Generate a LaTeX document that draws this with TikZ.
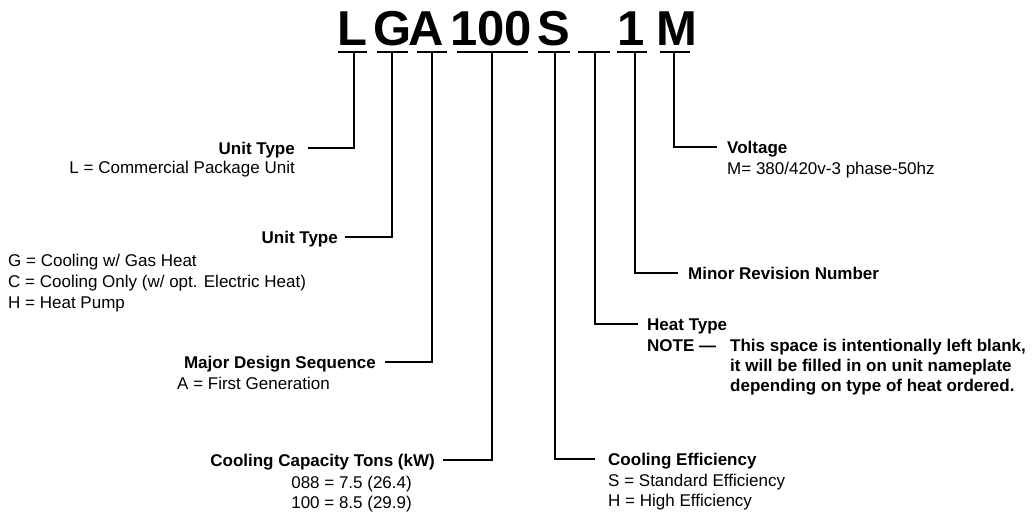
\documentclass[tikz,border=0pt]{standalone}
\usepackage{fontspec}
\setmainfont{Liberation Sans}
\begin{document}
\begin{tikzpicture}[x=1pt,y=-1pt,
  conn/.style={line width=1.8pt, line join=miter},
  bar/.style={fill=black, inner sep=0pt, minimum height=2.2pt},
  big/.style={font=\fontsize{49}{49}\selectfont\bfseries, inner sep=0pt, anchor=base},
  ttl/.style={font=\fontsize{17}{20}\selectfont\bfseries, inner sep=0pt, text height=12.2pt, text depth=0pt},
  dsc/.style={font=\fontsize{17}{20}\selectfont, inner sep=0pt},
  nt/.style={font=\fontsize{17}{20}\selectfont\bfseries, inner sep=0pt}]
\useasboundingbox (0,0) rectangle (1032,512);

% big code letters
\node[big] (cL) at (352,45) {L};
\node[big] (cG) at (393,45) {G};
\node[big] (cA) at (426,45) {A};
\node[big] (c100) at (491,45) {100};
\node[big] (cS) at (554,45) {S};
\node[big] (c1) at (631,45) {1};
\node[big] (cM) at (677,45) {M};

% underline bars
\node[bar, minimum width=29pt] (barL) at (352.5,52) {};
\node[bar, minimum width=31pt] (barG) at (392.5,52) {};
\node[bar, minimum width=30pt] (barA) at (432,52) {};
\node[bar, minimum width=71pt] (bar100) at (492.5,52) {};
\node[bar, minimum width=32pt] (barS) at (554,52) {};
\node[bar, minimum width=32pt] (barB) at (594,52) {};
\node[bar, minimum width=30pt] (bar1) at (632,52) {};
\node[bar, minimum width=30pt] (barM) at (675,52) {};

\coordinate (vL) at (354,52);
\coordinate (vG) at (392,52);
\coordinate (vA) at (432,52);
\coordinate (v100) at (492,52);
\coordinate (vS) at (555,52);
\coordinate (vB) at (595,52);
\coordinate (v1) at (635,52);
\coordinate (vM) at (674,52);

% left texts
\node[ttl, anchor=base east] (tL) at (295,154) {Unit Type};
\node[dsc, anchor=base east] (dL) at (295,173) {L = Commercial Package Unit};

\node[ttl, anchor=base east] (tG) at (338,243) {Unit Type};
\node[dsc, anchor=base west] (dG1) at (8,266) {G = Cooling w/ Gas Heat};
\node[dsc, anchor=base west] (dG2) at (8,287) {C = Cooling Only (w/ opt. Electric Heat)};
\node[dsc, anchor=base west] (dG3) at (8,308) {H = Heat Pump};

\node[ttl, anchor=base east] (tA) at (376,368) {Major Design Sequence};
\node[dsc, anchor=base east] (dA) at (330,389) {A = First Generation};

\node[ttl, anchor=base east] (tC) at (435,466) {Cooling Capacity Tons (kW)};
\node[dsc, anchor=base east] (dC1) at (412,488) {088 = 7.5 (26.4)};
\node[dsc, anchor=base east] (dC2) at (412,508) {100 = 8.5 (29.9)};

% right texts
\node[ttl, anchor=base west] (tE) at (608,465) {Cooling Efficiency};
\node[dsc, anchor=base west] (dE1) at (608,486) {S = Standard Efficiency};
\node[dsc, anchor=base west] (dE2) at (608,506) {H = High Efficiency};

\node[ttl, anchor=base west] (tH) at (647,330) {Heat Type};
\node[nt, anchor=base west] (nH) at (647,351) {NOTE —};
\node[nt, anchor=base west] (nH1) at (730,351) {This space is intentionally left blank,};
\node[nt, anchor=base west] (nH2) at (730,371) {it will be filled in on unit nameplate};
\node[nt, anchor=base west] (nH3) at (730,391) {depending on type of heat ordered.};

\node[ttl, anchor=base west] (tR) at (688,279) {Minor Revision Number};

\node[ttl, anchor=base west] (tV) at (727,153) {Voltage};
\node[dsc, anchor=base west] (dV) at (727,174) {M= 380/420v-3 phase-50hz};

% connectors
\draw[conn] (vL) |- ([xshift=13pt]tL.east);
\draw[conn] (vG) |- ([xshift=7pt]tG.east);
\draw[conn] (vA) |- ([xshift=9pt]tA.east);
\draw[conn] (v100) |- ([xshift=8pt]tC.east);
\draw[conn] (vS) |- ([xshift=-13pt]tE.west);
\draw[conn] (vB) |- ([xshift=-9pt]tH.west);
\draw[conn] (v1) |- ([xshift=-10pt]tR.west);
\draw[conn] (vM) |- ([xshift=-10pt]tV.west);
\end{tikzpicture}
\end{document}
